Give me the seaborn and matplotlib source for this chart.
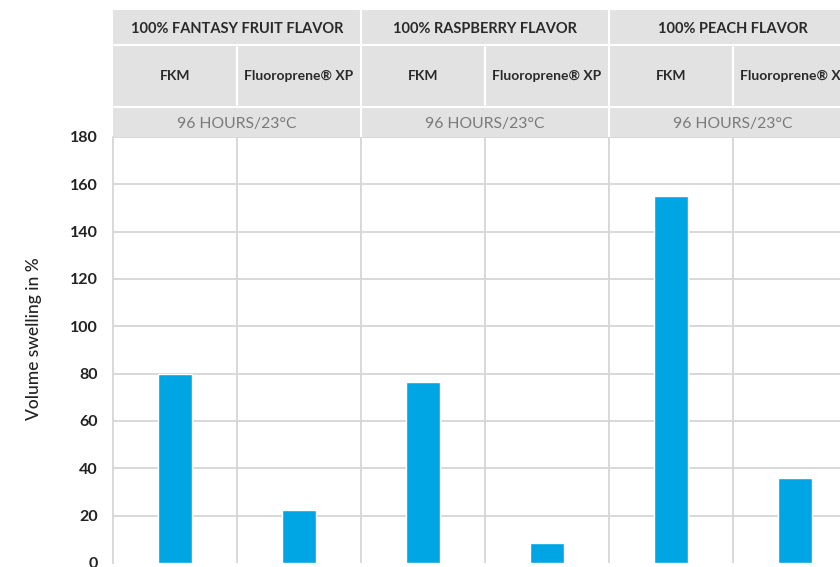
import pandas as pd
import seaborn as sns
import matplotlib.pyplot as plt
from matplotlib.patches import Rectangle

# Data
flavors = ["100% FANTASY FRUIT FLAVOR", "100% RASPBERRY FLAVOR", "100% PEACH FLAVOR"]
materials = ["FKM", "Fluoroprene® XP"]
condition = "96 HOURS/23°C"
swelling = [80, 22.5, 76.5, 8.5, 155, 36]

labels = [f"{f}|{m}" for f in flavors for m in materials]
df = pd.DataFrame({"col": labels, "swelling": swelling})

sns.set_theme(style="white")
plt.rcParams["font.family"] = ["Lato", "DejaVu Sans"]

W, H = 840, 567
fig = plt.figure(figsize=(8.4, 5.67), dpi=100)

# Main axes, extends past the right edge like the reference crop
left, right = 113, 857
top, bottom = 137, 563
ax = fig.add_axes([left / W, (H - bottom) / H, (right - left) / W, (bottom - top) / H])

grid_c = "#d6d6d6"
sns.barplot(data=df, x="col", y="swelling", color="#00a5e3", width=0.28,
            saturation=1, ax=ax, zorder=3)
ax.set_xlim(-0.5, 5.5)
ax.set_ylim(0, 180)
ax.set_yticks(range(0, 181, 20))
ax.set_xticks([])
ax.set_xlabel("")
ax.set_ylabel("Volume swelling in %", fontsize=12.5, color="#222222", fontweight="medium")
ax.yaxis.set_label_coords(-0.096, 0.526)
for y in range(20, 181, 20):
    ax.axhline(y, color=grid_c, lw=1.3, zorder=1)
for x in [0.5, 1.5, 2.5, 3.5, 4.5]:
    ax.axvline(x, color=grid_c, lw=1.3, zorder=1)
for s in ["top", "right", "bottom"]:
    ax.spines[s].set_visible(False)
ax.spines["left"].set_color(grid_c)
ax.spines["left"].set_linewidth(1.3)
ax.tick_params(axis="y", length=5, width=1.3, color=grid_c, labelsize=11.5,
               labelcolor="#222222", pad=6)
for t in ax.get_yticklabels():
    t.set_fontweight("bold")

# Header table above the plot
htop = 10
hx = fig.add_axes([left / W, (H - top) / H, (right - left) / W, (top - htop) / H])
hx.set_xlim(-0.5, 5.5)
hx.set_ylim(top, htop)
hx.axis("off")
bg = "#e2e2e2"
row1, row2 = 45, 107
hx.add_patch(Rectangle((-0.5, htop), 6, top - htop, color=bg, lw=0))
hx.plot([-0.5, 5.5], [row1, row1], color="white", lw=1.5)
hx.plot([-0.5, 5.5], [row2, row2], color="white", lw=1.5)
for i, f in enumerate(flavors):
    cx = 2 * i + 0.5
    hx.text(cx, (htop + row1) / 2 + 1.5, f, ha="center", va="center", fontsize=10.5,
            fontweight="bold", color="#2a2a2a")
    hx.text(cx, (row2 + top) / 2 + 2, condition, ha="center", va="center", fontsize=11.3,
            color="#7a7a7a")
    for j, m in enumerate(materials):
        hx.text(2 * i + j, (row1 + row2) / 2, m, ha="center", va="center", fontsize=10,
                fontweight="bold", color="#2a2a2a")
for x in [1.5, 3.5]:
    hx.plot([x, x], [htop, top], color="white", lw=1.5)
for x in [0.5, 2.5, 4.5]:
    hx.plot([x, x], [row1, row2], color="white", lw=1.5)

fig.savefig("out.png", dpi=100)
